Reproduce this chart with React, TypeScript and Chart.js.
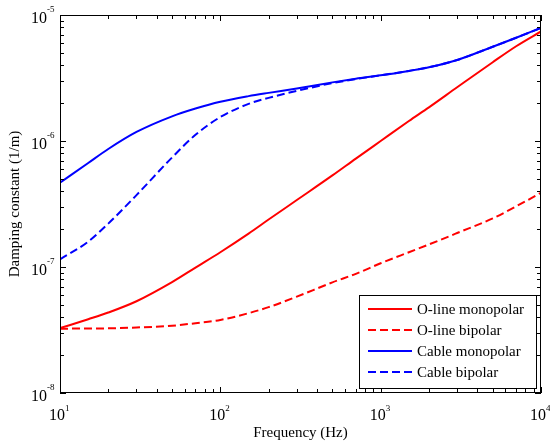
import React, { useEffect, useRef } from "react";
import { Chart, registerables } from "chart.js";

Chart.register(...registerables);

const frequencies = [10, 15, 20, 30, 50, 70, 100, 150, 200, 300, 500, 700, 1000, 1500, 2000, 3000, 5000, 7000, 10000];
const olineMonopolar = [3.27e-8, 3.85e-8, 4.35e-8, 5.35e-8, 7.59e-8, 9.9e-8, 1.31e-7, 1.84e-7, 2.38e-7, 3.4e-7, 5.33e-7, 7.25e-7, 1.0e-6, 1.44e-6, 1.85e-6, 2.67e-6, 4.22e-6, 5.65e-6, 7.4e-6];
const olineBipolar = [3.24e-8, 3.25e-8, 3.26e-8, 3.31e-8, 3.42e-8, 3.58e-8, 3.8e-8, 4.3e-8, 4.8e-8, 5.82e-8, 7.55e-8, 8.83e-8, 1.07e-7, 1.31e-7, 1.51e-7, 1.86e-7, 2.43e-7, 3.03e-7, 3.88e-7];
const cableMonopolar = [4.66e-7, 6.69e-7, 8.64e-7, 1.18e-6, 1.57e-6, 1.81e-6, 2.05e-6, 2.27e-6, 2.41e-6, 2.61e-6, 2.92e-6, 3.12e-6, 3.32e-6, 3.6e-6, 3.85e-6, 4.4e-6, 5.6e-6, 6.6e-6, 7.9e-6];
const cableBipolar = [1.15e-7, 1.59e-7, 2.21e-7, 3.72e-7, 7.4e-7, 1.12e-6, 1.55e-6, 1.97e-6, 2.2e-6, 2.5e-6, 2.88e-6, 3.1e-6, 3.32e-6, 3.6e-6, 3.85e-6, 4.4e-6, 5.6e-6, 6.6e-6, 7.9e-6];

const seriesLabels = ["O-line monopolar", "O-line bipolar", "Cable monopolar", "Cable bipolar"];
const xTickExponents = [1, 2, 3, 4];
const yTickExponents = [-8, -7, -6, -5];
const xTitle = "Frequency (Hz)";
const yTitle = "Damping constant (1/m)";

const FONT = "'Liberation Serif', 'Times New Roman', serif";

const toPoints = (vals: number[]) => frequencies.map((f, i) => ({ x: f, y: vals[i] }));

const framePlugin = {
  id: "frame",
  afterDatasetsDraw(chart: any) {
    const { ctx, chartArea } = chart;
    const { left, right, top, bottom } = chartArea;
    const xs = chart.scales.x;
    const ys = chart.scales.y;
    ctx.save();
    ctx.strokeStyle = "#000";
    ctx.lineWidth = 1;
    ctx.strokeRect(left + 0.5, top + 0.5, right - left - 1, bottom - top - 1);
    ctx.beginPath();
    for (let e = 1; e <= 4; e++) {
      for (let k = 1; k <= 9; k++) {
        const v = k * Math.pow(10, e);
        if (v > 10000) break;
        const px = Math.round(xs.getPixelForValue(v)) + 0.5;
        const len = k === 1 ? 6 : 4;
        ctx.moveTo(px, bottom);
        ctx.lineTo(px, bottom - len);
        ctx.moveTo(px, top);
        ctx.lineTo(px, top + len);
      }
    }
    for (let e = -8; e <= -5; e++) {
      for (let k = 1; k <= 9; k++) {
        const v = k * Math.pow(10, e);
        if (v > 1e-5 * 1.0001) break;
        const py = Math.round(ys.getPixelForValue(v)) + 0.5;
        const len = k === 1 ? 6 : 4;
        ctx.moveTo(left, py);
        ctx.lineTo(left + len, py);
        ctx.moveTo(right, py);
        ctx.lineTo(right - len, py);
      }
    }
    ctx.stroke();

    ctx.fillStyle = "#000";
    ctx.textBaseline = "alphabetic";
    xTickExponents.forEach((e) => {
      const px = xs.getPixelForValue(Math.pow(10, e));
      ctx.font = `16px ${FONT}`;
      ctx.textAlign = "right";
      ctx.fillText("10", px + 5, 420);
      ctx.font = `9px ${FONT}`;
      ctx.textAlign = "left";
      ctx.fillText(String(e), px + 5, 411);
    });
    yTickExponents.forEach((e) => {
      const py = ys.getPixelForValue(Math.pow(10, e));
      ctx.font = `16px ${FONT}`;
      ctx.textAlign = "right";
      ctx.fillText("10", 47, py + 8);
      ctx.font = `9px ${FONT}`;
      ctx.textAlign = "left";
      ctx.fillText(String(e), 47, py - 3);
    });

    const bx = 359, by = 295, bw = 177, bh = 93;
    ctx.fillStyle = "#fff";
    ctx.fillRect(bx, by, bw, bh);
    ctx.strokeStyle = "#000";
    ctx.lineWidth = 1;
    ctx.strokeRect(bx + 0.5, by + 0.5, bw, bh);
    chart.data.datasets.forEach((ds: any, i: number) => {
      const y = 309 + i * 21;
      ctx.save();
      ctx.strokeStyle = ds.borderColor;
      ctx.lineWidth = 2;
      ctx.setLineDash(ds.borderDash || []);
      ctx.beginPath();
      ctx.moveTo(368, y);
      ctx.lineTo(412, y);
      ctx.stroke();
      ctx.restore();
      ctx.fillStyle = "#000";
      ctx.font = `15px ${FONT}`;
      ctx.textAlign = "left";
      ctx.textBaseline = "middle";
      ctx.fillText(ds.label, 417, y + 1);
    });
    ctx.restore();
  },
};

export default function App() {
  const ref = useRef<HTMLCanvasElement>(null);
  useEffect(() => {
    document.body.style.margin = "0";
    const canvas = ref.current;
    if (!canvas) return;
    const colors = ["#ff0000", "#ff0000", "#0000ff", "#0000ff"];
    const dashes = [[], [8, 4], [], [8, 4]];
    const seriesValues = [olineMonopolar, olineBipolar, cableMonopolar, cableBipolar];
    const chart = new Chart(canvas, {
      type: "line",
      data: {
        datasets: seriesValues.map((vals, i) => ({
          label: seriesLabels[i],
          data: toPoints(vals),
          borderColor: colors[i],
          backgroundColor: colors[i],
          borderWidth: 2,
          borderDash: dashes[i],
          pointRadius: 0,
          fill: false,
          cubicInterpolationMode: "monotone" as const,
        })),
      },
      options: {
        animation: false,
        responsive: false,
        devicePixelRatio: 1,
        layout: { padding: { top: 15, right: 9, left: 0, bottom: 0 } },
        plugins: { legend: { display: false }, tooltip: { enabled: false } },
        scales: {
          x: {
            type: "logarithmic",
            min: 10,
            max: 10000,
            grid: { display: false, drawTicks: false },
            border: { display: false },
            ticks: { display: false },
            title: {
              display: true,
              text: xTitle,
              color: "#000",
              font: { family: FONT, size: 15 },
              padding: { top: 0, bottom: 2 },
            },
            afterFit: (s: any) => {
              s.height = 51;
            },
          },
          y: {
            type: "logarithmic",
            min: 1e-8,
            max: 1e-5,
            grid: { display: false, drawTicks: false },
            border: { display: false },
            ticks: { display: false },
            title: {
              display: true,
              text: yTitle,
              color: "#000",
              font: { family: FONT, size: 15 },
              padding: { top: 6, bottom: 0 },
            },
            afterFit: (s: any) => {
              s.width = 60;
            },
          },
        },
      },
      plugins: [framePlugin],
    });
    return () => chart.destroy();
  }, []);
  return (
    <div style={{ width: 550, height: 444, background: "#fff" }}>
      <canvas ref={ref} width={550} height={444} />
    </div>
  );
}
